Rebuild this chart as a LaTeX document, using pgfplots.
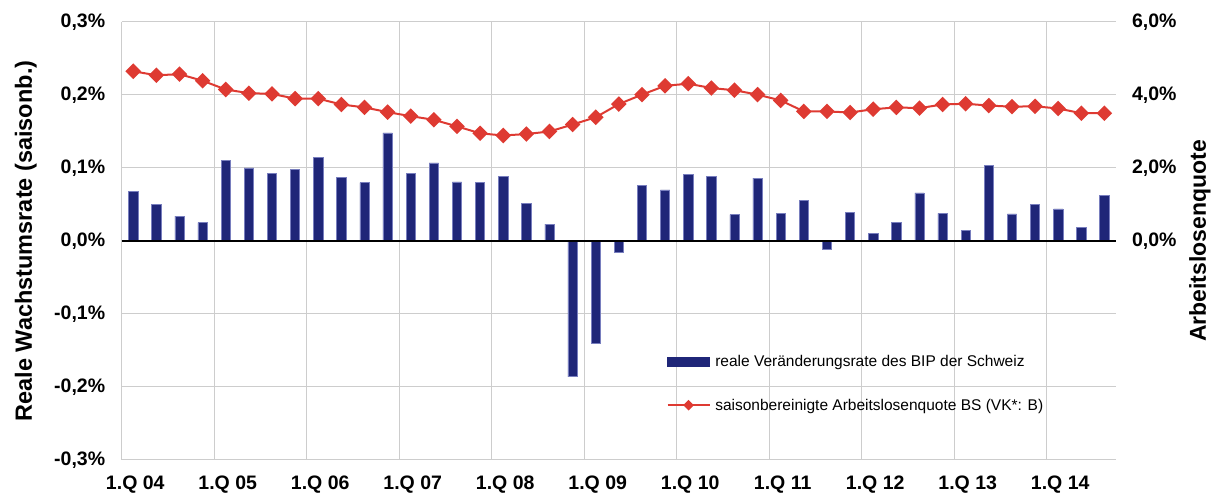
\documentclass[border=0pt]{standalone}
\usepackage{fontspec}
\setmainfont{Liberation Sans}
\usepackage{pgfplots}
\pgfplotsset{compat=1.18}
\definecolor{barblue}{RGB}{31,38,120}
\definecolor{baredge}{RGB}{120,126,190}
\definecolor{linered}{RGB}{222,58,50}
\definecolor{gridgray}{RGB}{205,205,205}
\pgfplotsset{redlegend/.style={legend image code/.code={\draw[mark repeat=2,mark phase=2,##1,line width=1.5pt,mark size=3pt] plot coordinates {(0pt,0pt) (21pt,0pt) (42pt,0pt)};}}}
\begin{document}
\begin{tikzpicture}[x=1pt,y=1pt]
\path[use as bounding box] (-121.7,-37) rectangle (1093.3,460);
\begin{axis}[
  scale only axis, width=994.3pt, height=438pt,
  xmin=-0.5, xmax=42.5, ymin=-0.3, ymax=0.3,
  axis x line*=bottom, axis y line*=left,
  axis line style={gridgray, line width=1pt},
  ytick={-0.3,-0.2,-0.1,0,0.1,0.2,0.3},
  yticklabels={{-0,3\%},{-0,2\%},{-0,1\%},{0,0\%},{0,1\%},{0,2\%},{0,3\%}},
  ymajorgrids, grid style={gridgray, line width=1pt},
  xtick={0,4,8,12,16,20,24,28,32,36,40},
  xticklabels={1.Q 04,1.Q 05,1.Q 06,1.Q 07,1.Q 08,1.Q 09,1.Q 10,1.Q 11,1.Q 12,1.Q 13,1.Q 14},
  minor xtick={3.5,7.5,11.5,15.5,19.5,23.5,27.5,31.5,35.5,39.5},
  xminorgrids,
  major tick length=0pt, minor tick length=0pt,
  tick label style={font=\fontsize{19.5}{22}\selectfont\bfseries},
  yticklabel style={xshift=-13pt},
  xticklabel style={yshift=-12.5pt, xshift=2pt},
  ylabel={Reale Wachstumsrate (saisonb.)},
  ylabel style={at={(axis description cs:-0.0965,0.5)}, anchor=center, font=\fontsize{23.5}{27}\selectfont\bfseries},
]
\addplot[ybar, bar width=9.3pt, fill=barblue, draw=baredge, line width=0.6pt] coordinates {
(0,0.068) (1,0.050) (2,0.034) (3,0.025) (4,0.110) (5,0.100) (6,0.093) (7,0.098)
(8,0.115) (9,0.087) (10,0.080) (11,0.148) (12,0.093) (13,0.107) (14,0.081) (15,0.080)
(16,0.089) (17,0.052) (18,0.023) (19,-0.186) (20,-0.140) (21,-0.015) (22,0.076) (23,0.070)
(24,0.091) (25,0.089) (26,0.036) (27,0.086) (28,0.038) (29,0.056) (30,-0.011) (31,0.039)
(32,0.010) (33,0.026) (34,0.066) (35,0.038) (36,0.015) (37,0.104) (38,0.037) (39,0.050)
(40,0.044) (41,0.019) (42,0.063)};
\draw[black, line width=1.2pt] (axis cs:-0.5,0) -- (axis cs:42.5,0);
\end{axis}
\begin{axis}[
  scale only axis, width=994.3pt, height=438pt,
  xmin=-0.5, xmax=42.5, ymin=-6, ymax=6,
  axis x line=none, axis y line*=right,
  axis line style={draw=none},
  ytick={0,2,4,6},
  yticklabels={{0,0\%},{2,0\%},{4,0\%},{6,0\%}},
  major tick length=0pt,
  tick label style={font=\fontsize{19.5}{22}\selectfont\bfseries},
  yticklabel style={xshift=12.5pt},
  ylabel={Arbeitslosenquote},
  ylabel style={at={(axis description cs:1.0845,0.5)}, anchor=center, font=\fontsize{23}{27}\selectfont\bfseries},
  legend style={at={(axis description cs:0.545,0.249)}, anchor=north west, draw=none, fill=none,
    font=\fontsize{15.5}{18}\selectfont, row sep=27pt, column sep=3pt},
  legend cell align=left,
]
\addlegendimage{legend image code/.code={\fill[barblue] (0pt,-4.5pt) rectangle (42pt,4.5pt);}}
\addlegendentry{reale Veränderungsrate des BIP der Schweiz}
\addplot[linered, line width=2pt, mark=square*, mark size=4.5pt, mark options={rotate=45}, redlegend] coordinates {
(0,4.65) (1,4.54) (2,4.57) (3,4.39) (4,4.15) (5,4.05) (6,4.03) (7,3.90)
(8,3.90) (9,3.74) (10,3.66) (11,3.53) (12,3.42) (13,3.32) (14,3.14) (15,2.95)
(16,2.89) (17,2.93) (18,3.00) (19,3.19) (20,3.39) (21,3.75) (22,4.01) (23,4.25)
(24,4.31) (25,4.19) (26,4.13) (27,4.01) (28,3.85) (29,3.55) (30,3.55) (31,3.52)
(32,3.61) (33,3.66) (34,3.64) (35,3.74) (36,3.76) (37,3.71) (38,3.68) (39,3.69)
(40,3.63) (41,3.50) (42,3.50)};
\addlegendentry{saisonbereinigte Arbeitslosenquote BS (VK*: B)}
\end{axis}
\end{tikzpicture}
\end{document}
